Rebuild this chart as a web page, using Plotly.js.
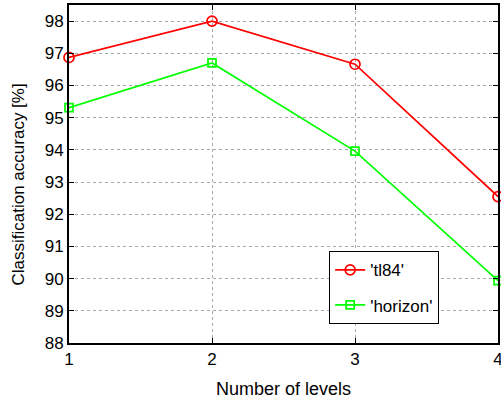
<!DOCTYPE html>
<html><head><meta charset="utf-8">
<script src="https://cdn.plot.ly/plotly-3.0.1.min.js"></script>
<style>html,body{margin:0;padding:0;background:#fff}#plot{width:501px;height:403px}</style>
</head><body><div id="plot"></div>
<script>
const levels = [1, 2, 3, 4];
const tl84 = [96.87, 98.0, 96.66, 92.55];
const horizon = [95.31, 96.70, 93.96, 89.94];
const seriesNames = ["'tl84'", "'horizon'"];
const yTicks = [88, 89, 90, 91, 92, 93, 94, 95, 96, 97, 98];
const xTitle = 'Number of levels';
const yTitle = 'Classification accuracy [%]';

const fam = 'Liberation Sans, Arial, sans-serif';
const font = {family: fam, size: 17, color: '#000'};
const traces = [
  {x: levels, y: tl84, name: seriesNames[0], legendgroup: 'a', mode: 'lines+markers', cliponaxis: false,
   line: {color: '#ff0000', width: 1.7},
   marker: {symbol: 'circle-open', size: 10, color: '#ff0000', line: {width: 1.7}}},
  {x: levels, y: horizon, name: seriesNames[1], legendgroup: 'b', mode: 'lines+markers', cliponaxis: false,
   line: {color: '#00ff00', width: 1.7},
   marker: {symbol: 'square-open', size: 8, color: '#00ff00', line: {width: 1.7}}}
];
const axisCommon = {showline: true, linecolor: '#000', linewidth: 2, mirror: 'ticks',
  ticks: 'inside', ticklen: 5, tickcolor: '#000', tickwidth: 1,
  showgrid: true, gridcolor: '#a8a8a8', griddash: 'dot', gridwidth: 1,
  zeroline: false, tickfont: font, ticklabeloverflow: 'allow'};
const layout = {
  width: 501, height: 403,
  margin: {l: 69, r: 3, t: 5, b: 60},
  paper_bgcolor: '#fff', plot_bgcolor: '#fff',
  font: font,
  showlegend: true,
  legend: {x: 0.606, y: 0.272, xanchor: 'left', yanchor: 'top',
    bgcolor: '#fff', bordercolor: '#000', borderwidth: 1.2,
    font: {family: fam, size: 17, color: '#000'},
    traceorder: 'grouped', tracegroupgap: 10, itemwidth: 30},
  xaxis: Object.assign({}, axisCommon, {range: [1, 4], tickvals: levels, ticktext: levels.map(String),
    title: {text: xTitle, font: {family: fam, size: 18}, standoff: 14}}),
  yaxis: Object.assign({}, axisCommon, {range: [88, 98.5], tickvals: yTicks, ticktext: yTicks.map(String)}),
  annotations: [{text: yTitle, xref: 'paper', yref: 'paper', x: -0.118, y: 0.47,
    xanchor: 'center', yanchor: 'middle', textangle: -90, showarrow: false,
    font: {family: fam, size: 17, color: '#000'}}]
};
Plotly.newPlot('plot', traces, layout, {displayModeBar: false, staticPlot: true});
</script></body></html>
